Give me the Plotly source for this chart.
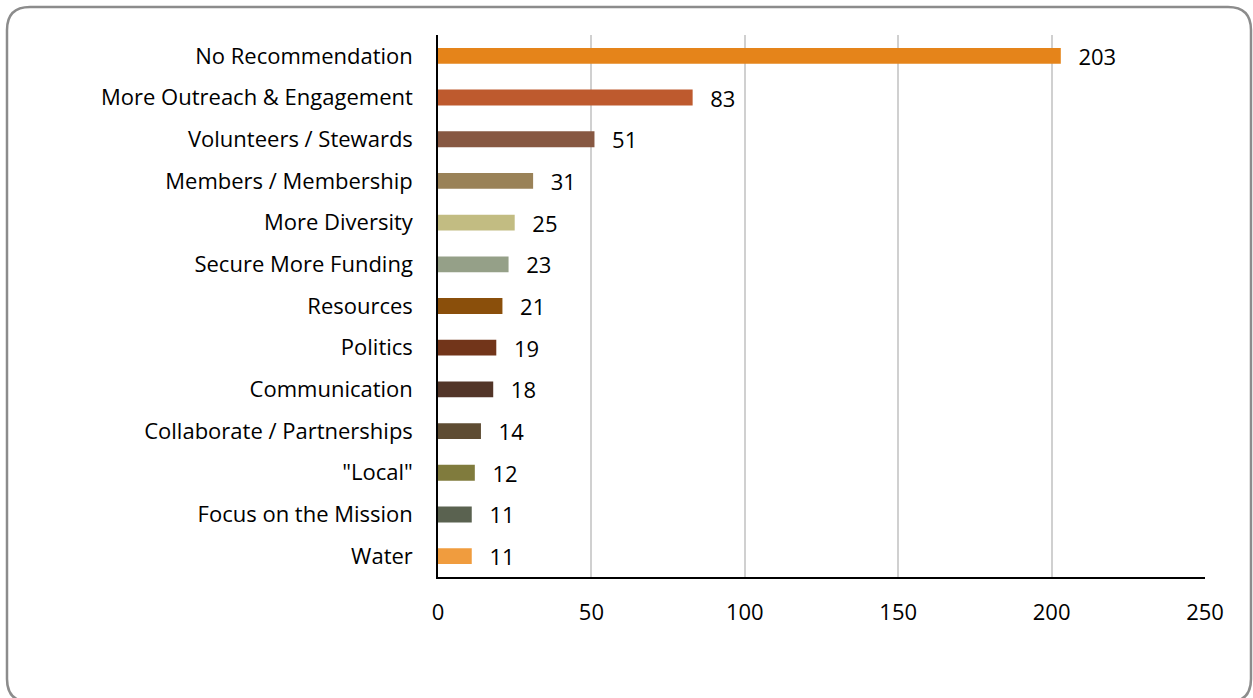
import plotly.graph_objects as go

categories = ["No Recommendation", "More Outreach & Engagement", "Volunteers / Stewards",
              "Members / Membership", "More Diversity", "Secure More Funding", "Resources",
              "Politics", "Communication", "Collaborate / Partnerships", '"Local"',
              "Focus on the Mission", "Water"]
counts = [203, 83, 51, 31, 25, 23, 21, 19, 18, 14, 12, 11, 11]
colors = ["#E5841A", "#BE5A2E", "#875842", "#9A8258", "#C2BC82", "#95A088", "#8A4F0B",
          "#72351A", "#523528", "#5E4C33", "#807B3D", "#5A6250", "#F09C3E"]

W, H = 1253, 698
ML, MR, MT, MB = 438, 48, 35, 121
font = "Open Sans, Liberation Sans, sans-serif"

fig = go.Figure()
fig.add_trace(go.Bar(
    x=counts, y=categories, orientation="h",
    marker=dict(color=colors, line=dict(width=0)),
    width=0.38,
    text=counts, texttemplate="\u2002\u2009%{text}",
    textposition="outside", cliponaxis=False, constraintext="none",
    textfont=dict(size=22, color="black", family=font),
))

# rounded border around the whole chart (pixel coords -> paper fractions)
pw, ph = W - ML - MR, H - MT - MB
def px(x, y):
    return f"{(x - ML) / pw:.5f},{(H - MB - y) / ph:.5f}"

r = 23
x0, y0, x1, y1 = 7, 7, 1251, 702
path = (f"M {px(x0+r, y0)} L {px(x1-r, y0)} Q {px(x1, y0)} {px(x1, y0+r)} "
        f"L {px(x1, y1-r)} Q {px(x1, y1)} {px(x1-r, y1)} L {px(x0+r, y1)} "
        f"Q {px(x0, y1)} {px(x0, y1-r)} L {px(x0, y0+r)} Q {px(x0, y0)} {px(x0+r, y0)} Z")

fig.update_layout(
    width=W, height=H,
    margin=dict(l=ML, r=MR, t=MT, b=MB),
    paper_bgcolor="white", plot_bgcolor="white",
    showlegend=False,
    font=dict(family=font, size=22, color="black"),
    xaxis=dict(range=[0, 250], dtick=50, showgrid=True, gridcolor="#D0D0D0", gridwidth=1.5,
               zeroline=False, showline=True, linecolor="black", linewidth=1.5,
               ticks="outside", ticklen=0, ticklabelstandoff=15,
               tickfont=dict(size=22, family=font)),
    yaxis=dict(categoryorder="array", categoryarray=categories[::-1],
               showline=True, linecolor="black", linewidth=1.5,
               ticks="outside", ticklen=0, ticklabelstandoff=19,
               tickfont=dict(size=22, family=font)),
    shapes=[dict(type="path", xref="paper", yref="paper", path=path,
                 line=dict(color="#8C8C8C", width=2.5), layer="below")],
)

fig.write_html("out.html", config={"displayModeBar": False},
               post_script="document.body.style.margin='0';")
